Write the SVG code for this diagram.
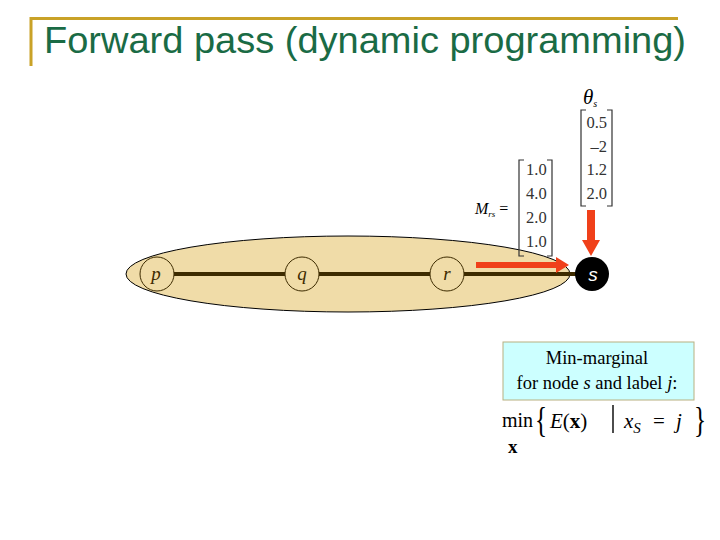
<svg xmlns="http://www.w3.org/2000/svg" width="720" height="540" viewBox="0 0 720 540">
<style>
.title{font-family:"Liberation Sans",Arial,sans-serif;font-size:36px;fill:#1a6b45}
.serif{font-family:"Liberation Serif","Times New Roman",serif;fill:#000}
.num{font-family:"Liberation Serif","Times New Roman",serif;font-size:16.5px;fill:#333}
.lbl{font-family:"Liberation Serif","Times New Roman",serif;font-size:19px;font-style:italic;fill:#3d2b00}
.node{fill:none;stroke:#3d2b00;stroke-width:1}
.edge{stroke:#3d2b00;stroke-width:4}
.brk{fill:none;stroke:#333;stroke-width:1.2}
.red{fill:#f0401a}
</style>
<rect width="720" height="540" fill="#fff"/>
<g id="title">
<path d="M31 66 V18.5 H678" fill="none" stroke="#c9a227" stroke-width="3"/>
<text class="title" x="44" y="53" textLength="642" lengthAdjust="spacingAndGlyphs">Forward pass (dynamic programming)</text>
</g>
<g id="chain">
<ellipse cx="348" cy="274" rx="222" ry="38" fill="#f0dca8" stroke="#000" stroke-width="1"/>
</g>
<g id="connectors">
<line class="edge" x1="174" y1="274" x2="285" y2="274"/>
<line class="edge" x1="319" y1="274" x2="430" y2="274"/>
<line class="edge" x1="464" y1="274" x2="576" y2="274"/>
<path class="red" d="M476 262 H556 V257 L569 265 L556 273 V268 H476 Z"/>
<path class="red" d="M587 210 H595 V240 H600 L591 256 L582 240 H587 Z"/>
</g>
<g id="node-p">
<circle class="node" cx="157" cy="274" r="17"/>
<text class="lbl" x="156" y="280" text-anchor="middle">p</text>
</g>
<g id="node-q">
<circle class="node" cx="302" cy="274" r="17"/>
<text class="lbl" x="302" y="280" text-anchor="middle">q</text>
</g>
<g id="node-r">
<circle class="node" cx="447" cy="274" r="17"/>
<text class="lbl" x="447" y="280" text-anchor="middle">r</text>
</g>
<g id="node-s">
<circle cx="592" cy="274" r="17" fill="#000"/>
<text x="593" y="281" font-family="Liberation Sans,Arial,sans-serif" font-size="19" font-style="italic" fill="#fff" text-anchor="middle">s</text>
</g>
<g id="matrix-Mrs">
<text class="serif" x="475" y="214" font-size="16" font-style="italic" fill="#333">M<tspan font-size="9" dy="3">rs</tspan><tspan dy="-3" font-style="normal"> =</tspan></text>
<path class="brk" d="M524 160 H519 V256 H524"/>
<path class="brk" d="M547 160 H552 V256 H547"/>
<text class="num" x="526" y="175">1.0</text>
<text class="num" x="526" y="199">4.0</text>
<text class="num" x="526" y="223">2.0</text>
<text class="num" x="526" y="247">1.0</text>
</g>
<g id="theta-s">
<text class="serif" x="583" y="104" font-size="21" font-style="italic" fill="#333">θ<tspan font-size="10" dy="3">s</tspan></text>
<path class="brk" d="M586 110 H581 V206 H586"/>
<path class="brk" d="M607 110 H612 V206 H607"/>
<text class="num" x="607" y="128" text-anchor="end">0.5</text>
<text class="num" x="607" y="152" text-anchor="end">–2</text>
<text class="num" x="607" y="175" text-anchor="end">1.2</text>
<text class="num" x="607" y="199" text-anchor="end">2.0</text>
</g>
<g id="label-box">
<rect x="503" y="342" width="191" height="58" fill="#ccffff" stroke="#b8b080" stroke-width="1"/>
<text class="serif" x="597" y="364" font-size="18.5" text-anchor="middle">Min-marginal</text>
<text class="serif" x="597" y="389" font-size="18.5" text-anchor="middle">for node <tspan font-style="italic">s</tspan> and label <tspan font-style="italic">j</tspan>:</text>
</g>
<g id="formula">
<text class="serif" x="502" y="427" font-size="20">min</text>
<text class="serif" x="508" y="453" font-size="19" font-weight="bold">x</text>
<text class="serif" x="535" y="432" font-size="36" transform="translate(535,432) scale(0.7,1) translate(-535,-432)">{</text>
<text class="serif" x="550" y="428" font-size="21"><tspan font-style="italic">E</tspan>(<tspan font-weight="bold">x</tspan>)</text>
<line x1="613" y1="405" x2="613" y2="433" stroke="#000" stroke-width="1.4"/>
<text class="serif" x="624" y="428" font-size="21" font-style="italic">x<tspan font-size="15" dy="5">S</tspan></text>
<text class="serif" x="653" y="428" font-size="21">=</text>
<text class="serif" x="676" y="428" font-size="21" font-style="italic">j</text>
<text class="serif" x="694" y="432" font-size="36" transform="translate(694,432) scale(0.7,1) translate(-694,-432)">}</text>
</g>
</svg>
